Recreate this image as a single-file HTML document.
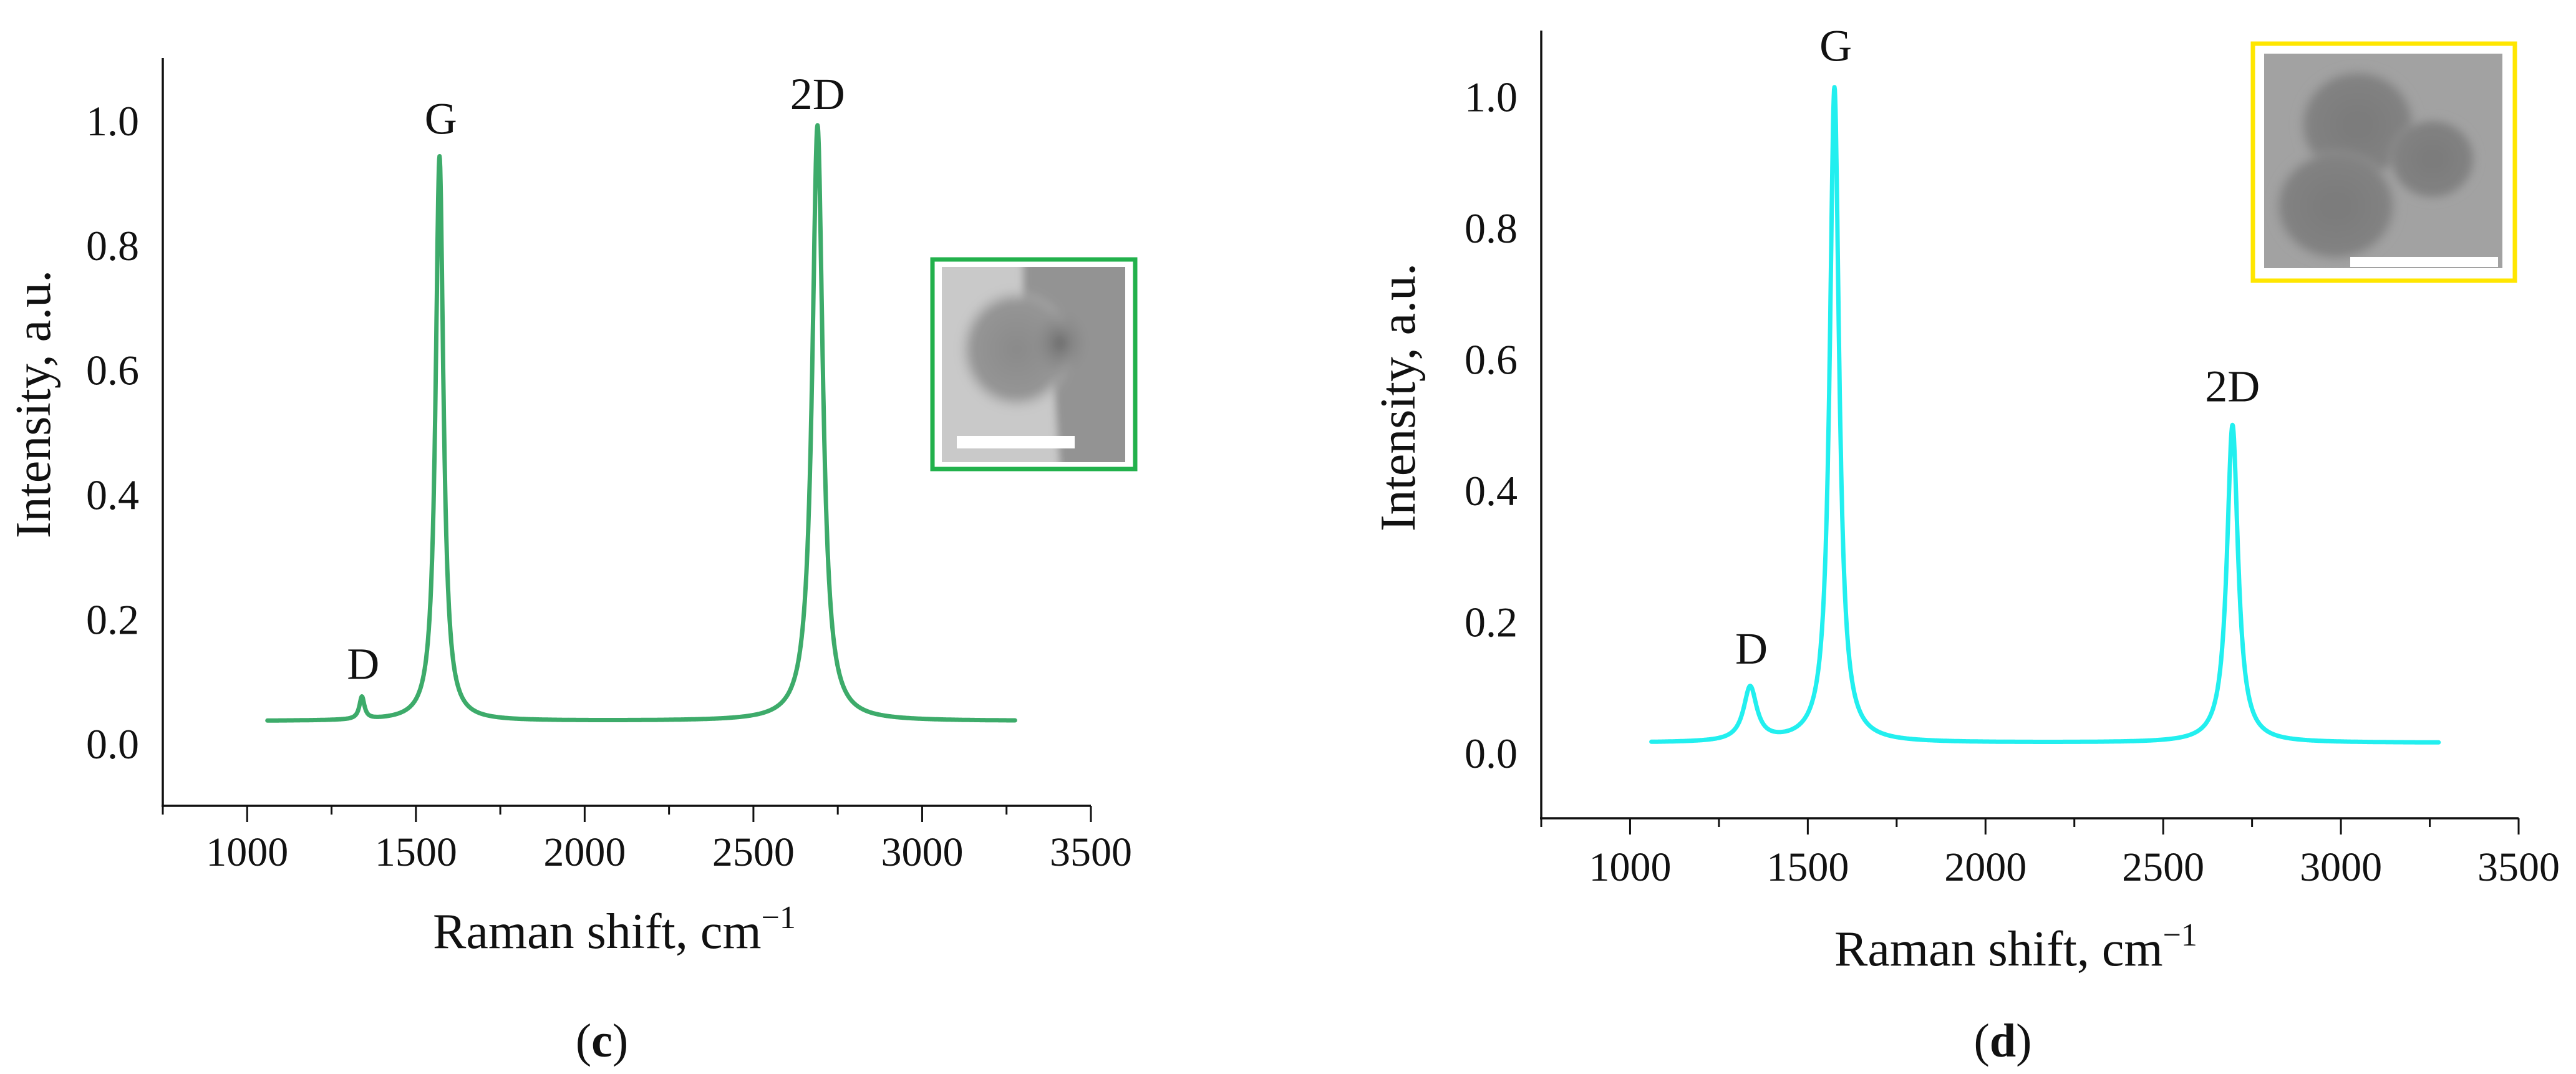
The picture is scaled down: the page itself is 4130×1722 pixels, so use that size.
<!DOCTYPE html>
<html><head><meta charset="utf-8"><style>
html,body{margin:0;padding:0;background:#fff;}
svg{display:block;}
text{font-family:"Liberation Serif",serif;fill:#111;}
</style></head><body>
<svg id="fig" width="4130" height="1722" viewBox="0 0 4130 1722" xmlns="http://www.w3.org/2000/svg">
<defs>
<radialGradient id="blobC" cx="0.5" cy="0.5" r="0.5"><stop offset="0" stop-color="#8a8a8a"/><stop offset="0.75" stop-color="#959595"/><stop offset="1" stop-color="#b5b5b5" stop-opacity="0"/></radialGradient>
<radialGradient id="darkC" cx="0.5" cy="0.5" r="0.5"><stop offset="0" stop-color="#6a6a6a"/><stop offset="1" stop-color="#8a8a8a" stop-opacity="0"/></radialGradient>
<radialGradient id="blobD" cx="0.5" cy="0.5" r="0.5"><stop offset="0" stop-color="#7a7a7a"/><stop offset="0.8" stop-color="#828282"/><stop offset="1" stop-color="#9d9d9d" stop-opacity="0"/></radialGradient>
<filter id="soft" x="-5%" y="-5%" width="110%" height="110%"><feGaussianBlur stdDeviation="6"/></filter>
<clipPath id="clipC"><rect x="1510" y="428" width="294" height="313"/></clipPath>
<clipPath id="clipD"><rect x="3630" y="86" width="382" height="344"/></clipPath>
</defs>
<g id="panelC"></g>
<g id="panelD"></g>
</svg>
<script>
// Panel c data
const cBaseline = 0.036;
const cPeakCenters = [1340, 1570, 2690];
const cPeakHeights = [0.036, 0.906, 0.956];
const cPeakWidths = [18, 28, 38];
// Panel d data
const dBaseline = 0.015;
const dPeakCenters = [1338, 1575, 2695];
const dPeakHeights = [0.082, 0.998, 0.484];
const dPeakWidths = [45, 32, 38];
const xTicks = [1000, 1500, 2000, 2500, 3000, 3500];
const xMinorTicks = [750, 1250, 1750, 2250, 2750, 3250];
const yTicks = [0.0, 0.2, 0.4, 0.6, 0.8, 1.0];
const xRange = [1060, 3275];

const NS = 'http://www.w3.org/2000/svg';
function mk(parent, tag, attrs, txt){
  const e = document.createElementNS(NS, tag);
  for (const k in attrs) e.setAttribute(k, attrs[k]);
  if (txt !== undefined) e.textContent = txt;
  parent.appendChild(e); return e;
}
function spectrum(base, cs, hs, ws, x){
  let y = base;
  for (let i=0;i<cs.length;i++){ const d=(x-cs[i])/(ws[i]/2); y += hs[i]/(1+d*d); }
  return y;
}
function drawPanel(g, cfg){
  const X = v => cfg.x0 + (v-750)/(3500-750)*(cfg.x1-cfg.x0);
  const Y = v => cfg.yb - (v+0.1)/1.2*(cfg.yb-cfg.yt);
  const ya = mk(g,'line',{x1:cfg.x0,y1:cfg.yt,x2:cfg.x0,y2:cfg.yb+2,stroke:'#111','stroke-width':3.5});
  
  
  const xa = mk(g,'line',{x1:cfg.x0-2,y1:cfg.yb,x2:cfg.x1,y2:cfg.yb,stroke:'#111','stroke-width':3.5});
  
  
  xTicks.forEach(t=>{
    const l = mk(g,'line',{x1:X(t),y1:cfg.yb,x2:X(t),y2:cfg.yb+26,stroke:'#111','stroke-width':3});
    
    
    const tx = mk(g,'text',{x:X(t),y:cfg.xly,'text-anchor':'middle','font-size':66},String(t));
    
    
  });
  xMinorTicks.forEach(t=>{
    const l = mk(g,'line',{x1:X(t),y1:cfg.yb,x2:X(t),y2:cfg.yb+14,stroke:'#111','stroke-width':3});
    
    
  });
  yTicks.forEach(t=>{
    const tx = mk(g,'text',{x:cfg.x0-38,y:Y(t)+24,'text-anchor':'end','font-size':68},t.toFixed(1));
    
    
  });
  let d='';
  for (let x=xRange[0]; x<=xRange[1]; x+=1){
    const v = spectrum(cfg.base, cfg.cs, cfg.hs, cfg.ws, x);
    d += (x===xRange[0]?'M':'L') + X(x).toFixed(1)+','+Y(v).toFixed(1);
  }
  const p = mk(g,'path',{d:d,fill:'none',stroke:cfg.color,'stroke-width':7,'stroke-linejoin':'round','stroke-linecap':'round'});
  
  
  const names=['D','G','2D'];
  cfg.cs.forEach((c,i)=>{
    const v = spectrum(cfg.base, cfg.cs, cfg.hs, cfg.ws, c);
    const t = mk(g,'text',{x:X(c)+(i===2?0:2),y:Y(v)-cfg.lblOff[i],'text-anchor':'middle','font-size':72},names[i]);
    
    
  });
  const xt = mk(g,'text',{x:cfg.xtx,y:cfg.xty,'text-anchor':'middle','font-size':80},'Raman shift, cm');
  mk(xt,'tspan',{dy:-32,'font-size':52},'\u22121');
  
  
  const yt = mk(g,'text',{x:0,y:0,'text-anchor':'middle','font-size':80,transform:`translate(${cfg.ytx},${cfg.yty}) rotate(-90)`},'Intensity, a.u.');
  
  
  const pl = mk(g,'text',{x:cfg.plx,y:1694,'text-anchor':'middle','font-size':76},'(');
  mk(pl,'tspan',{'font-weight':'bold'},cfg.letter); mk(pl,'tspan',{},')');
  
  
}
drawPanel(document.getElementById('panelC'),{x0:261,x1:1749,yt:93,yb:1292,xly:1388,base:cBaseline,cs:cPeakCenters,hs:cPeakHeights,ws:cPeakWidths,color:'#3dab6a',lblOff:[28,36,26],xtx:985,xty:1520,ytx:80,yty:648,plx:965,letter:'c'});
drawPanel(document.getElementById('panelD'),{x0:2471,x1:4038,yt:49,yb:1312,xly:1412,base:dBaseline,cs:dPeakCenters,hs:dPeakHeights,ws:dPeakWidths,color:'#22efef',lblOff:[36,42,38],xtx:3232,xty:1548,ytx:2268,yty:637,plx:3211,letter:'d'});

const gc = document.getElementById('panelC');
const ic = mk(gc,'g',{});


mk(ic,'rect',{x:1495,y:416,width:325,height:336,fill:'#fff',stroke:'#22b14c','stroke-width':7});
mk(ic,'rect',{x:1510,y:428,width:294,height:313,fill:'#c9c9c9'});
const icb = mk(ic,'g',{'clip-path':'url(#clipC)'});
const icf = mk(icb,'g',{filter:'url(#soft)'});
mk(icf,'rect',{x:1500,y:420,width:320,height:330,fill:'#c9c9c9'});
mk(icf,'path',{d:'M1640,410 L1830,410 L1830,760 L1700,760 Q1690,640 1690,600 L1640,520 Z',fill:'#939393'});
mk(icf,'ellipse',{cx:1630,cy:560,rx:95,ry:100,fill:'url(#blobC)'});
mk(icf,'ellipse',{cx:1700,cy:550,rx:45,ry:55,fill:'url(#darkC)'});
const bc = mk(ic,'rect',{x:1534,y:699,width:189,height:20,fill:'#fff'});



const gd = document.getElementById('panelD');
const idd = mk(gd,'g',{});


mk(idd,'rect',{x:3612,y:70,width:420,height:380,fill:'#fff',stroke:'#ffe600','stroke-width':7});
mk(idd,'rect',{x:3630,y:86,width:382,height:344,fill:'#a2a2a2'});
const idb = mk(idd,'g',{'clip-path':'url(#clipD)'});
const idf = mk(idb,'g',{filter:'url(#soft)'});
mk(idf,'ellipse',{cx:3780,cy:200,rx:100,ry:95,fill:'url(#blobD)'});
mk(idf,'ellipse',{cx:3745,cy:330,rx:105,ry:95,fill:'url(#blobD)'});
mk(idf,'ellipse',{cx:3900,cy:255,rx:75,ry:70,fill:'url(#blobD)'});
const bd = mk(idd,'rect',{x:3768,y:412,width:237,height:16,fill:'#fff'});


</script>
</body></html>
